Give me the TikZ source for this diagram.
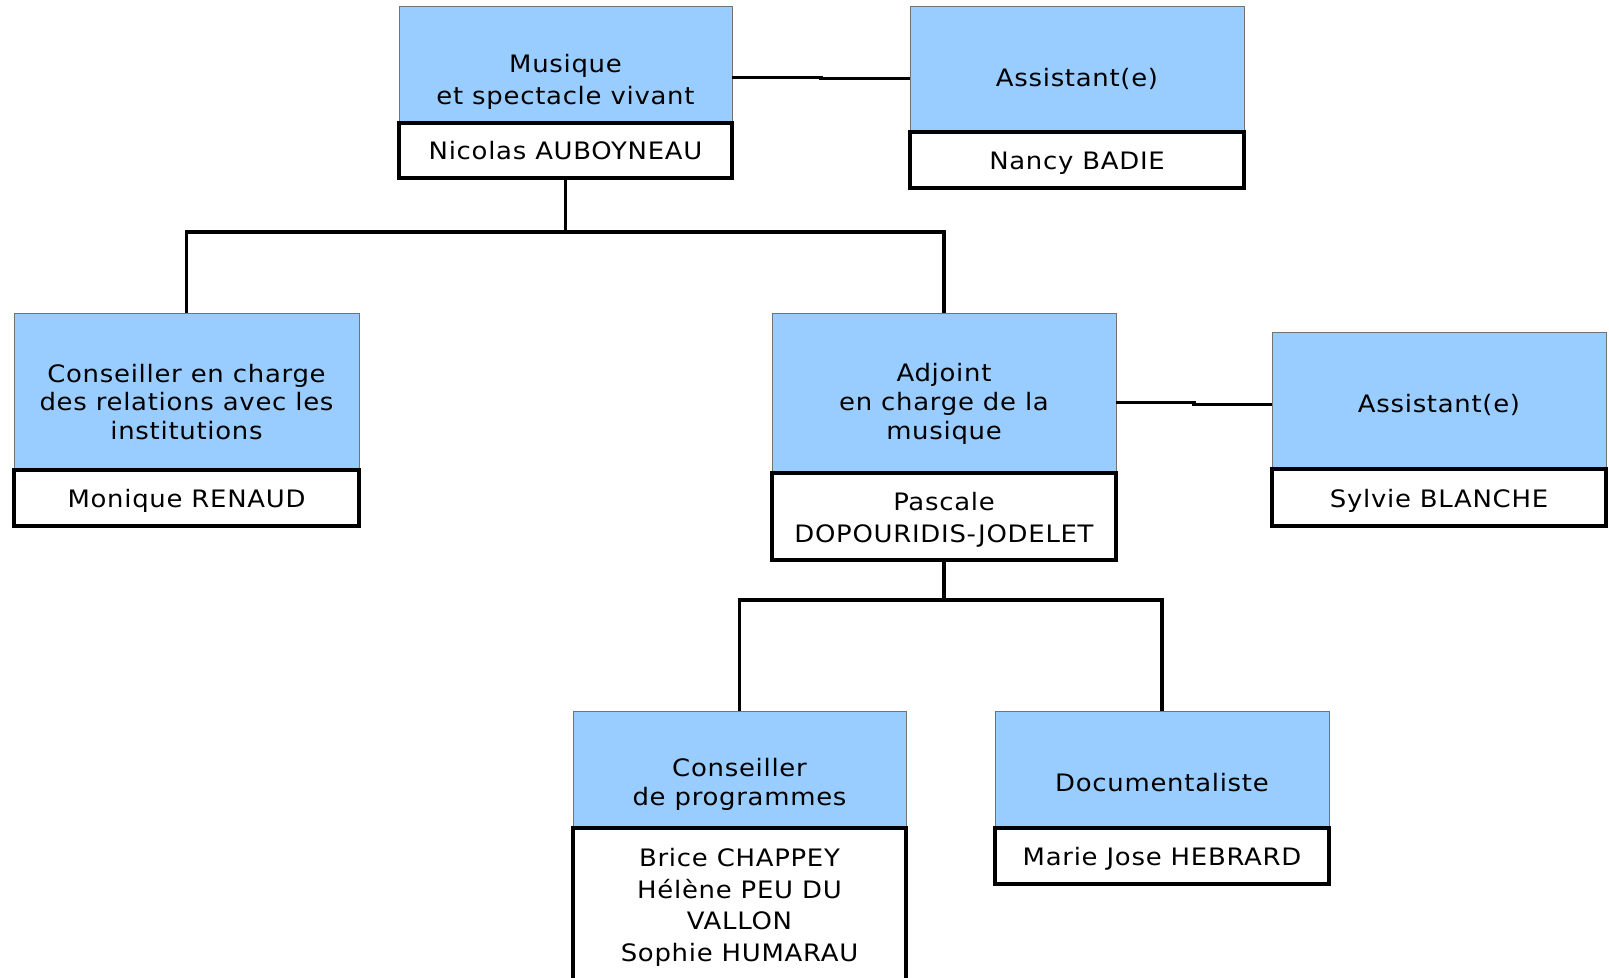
\documentclass[tikz,border=0pt]{standalone}
\usepackage{fontspec}
\setmainfont{DejaVu Sans}[FakeStretch=1.08, LetterSpace=3]
\usetikzlibrary{positioning}
\definecolor{roleblue}{HTML}{99CCFF}

\begin{document}
\begin{tikzpicture}[
    x=0.5pt, y=-0.5pt,
    role/.style={draw=black!55, line width=0.4pt, fill=roleblue, inner sep=0pt, outer sep=0pt},
    roletext/.style={align=center, font=\fontsize{12}{14.4}\selectfont, inner sep=0pt},
    person/.style={draw, line width=2pt, fill=white, inner sep=0pt, outer sep=0pt, align=center,
        font=\fontsize{12}{15.9}\selectfont},
    link/.style={line width=1.6pt}
]
    \fill[white, use as bounding box] (0,0) rectangle (1609,978);
    \clip (0,0) rectangle (1609,978);

    % Direction
    \node[role, minimum width=166.5pt, minimum height=58.5pt] (mus) at (565.5,64.5) {};
    \node[roletext, font=\fontsize{12}{15.9}\selectfont] (mus-t) at ([yshift=-8.5pt]mus.center) {Musique\\et spectacle vivant};
    \node[person, minimum width=166.5pt, minimum height=27.5pt, below=0pt of mus] (mus-n) {Nicolas AUBOYNEAU};

    \node[role, minimum width=167pt, minimum height=63pt] (as1) at (1077,69) {};
    \node[roletext] (as1-t) at ([yshift=-5pt]as1.center) {Assistant(e)};
    \node[person, minimum width=167pt, minimum height=28pt, below=0pt of as1] (as1-n) {\rule{0pt}{12pt}Nancy BADIE};

    % Second level
    \node[role, minimum width=172.5pt, minimum height=78.5pt] (cons) at (186.5,391.5) {};
    \node[roletext] (cons-t) at ([yshift=-5.25pt]cons.center) {Conseiller en charge\\des relations avec les\\institutions};
    \node[person, minimum width=172.5pt, minimum height=28pt, below=0pt of cons] (cons-n) {\rule{0pt}{12pt}Monique RENAUD};

    \node[role, minimum width=172pt, minimum height=80pt] (adj) at (944,393) {};
    \node[roletext] (adj-t) at ([yshift=-5.5pt]adj.center) {Adjoint\\en charge de la\\musique};
    \node[person, minimum width=172pt, minimum height=43.5pt, below=0pt of adj] (adj-n) {\rule{0pt}{12pt}Pascale\\DOPOURIDIS-JODELET};

    \node[role, minimum width=167pt, minimum height=68.5pt] (as2) at (1439,400.5) {};
    \node[roletext] (as2-t) at ([yshift=-2pt]as2.center) {Assistant(e)};
    \node[person, minimum width=167pt, minimum height=28.5pt, below=0pt of as2] (as2-n) {\rule{0pt}{12pt}Sylvie BLANCHE};

    % Third level
    \node[role, minimum width=166.5pt, minimum height=58.5pt] (prog) at (739.5,769.5) {};
    \node[roletext] (prog-t) at ([yshift=-7.5pt]prog.center) {Conseiller\\de programmes};
    \node[person, minimum width=166.5pt, minimum height=77.5pt, below=0pt of prog] (prog-n) {\rule{0pt}{11pt}Brice CHAPPEY\\Hélène PEU DU\\VALLON\\Sophie HUMARAU};

    \node[role, minimum width=167pt, minimum height=58.5pt] (doc) at (1162,769.5) {};
    \node[roletext] (doc-t) at ([yshift=-6.75pt]doc.center) {Documentaliste};
    \node[person, minimum width=167pt, minimum height=28pt, below=0pt of doc] (doc-n) {\rule{0pt}{12pt}Marie Jose HEBRARD};

    % Connectors
    \draw[link] (mus-n.south) -- ++(0,54) -| (cons.north);
    \draw[link] (mus-n.south) -- ++(0,54) -| (adj.north);
    \draw[link] (adj-n.south) -- ++(0,40) -| (prog.north);
    \draw[link] (adj-n.south) -- ++(0,40) -| (doc.north);

    % Assistants
    \draw[link] ([yshift=-6.5pt]mus.east) -- ++(89,0) |- ([yshift=-4.85pt]as1.west);
    \draw[link] ([yshift=-4.75pt]adj.east) -- ++(78,0) |- ([yshift=-2pt]as2.west);

\end{tikzpicture}
\end{document}
